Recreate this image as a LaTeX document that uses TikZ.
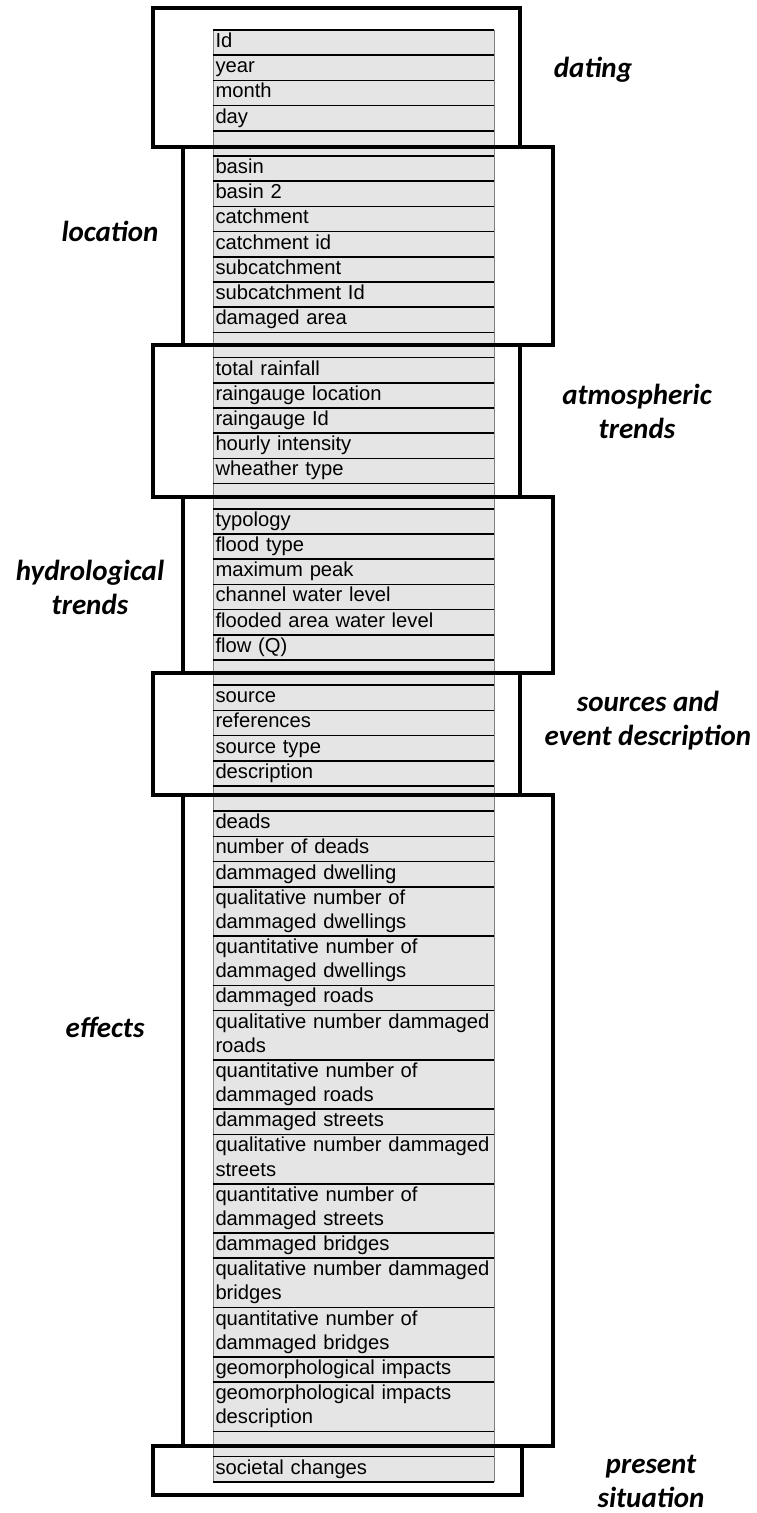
\documentclass[tikz,border=0pt]{standalone}
\usepackage{fontspec}
\setmainfont{Liberation Sans}
\newfontfamily\tagfont{Carlito}
\usetikzlibrary{positioning}
\definecolor{cellgray}{rgb}{0.9,0.9,0.9}

\begin{document}
\begin{tikzpicture}[
  x=1pt, y=-1pt,
  cell/.style = {fill=cellgray, draw=gray, line width=0.6pt, outer sep=0pt,
    inner xsep=2.5pt, inner ysep=0pt, text width=276pt, align=left,
    text height=17.5pt, font=\fontsize{20.2}{24.1}\selectfont},
  sep/.style = {line width=1.6pt},
  frame/.style = {line width=4pt},
  tag/.style = {align=center, font=\tagfont\bfseries\itshape\fontsize{29}{34}\selectfont},
]
  \useasboundingbox (0,0) rectangle (756,1513);

  % column of fields
  \coordinate (top) at (213,30);
  \foreach [count=\i, remember=\i as \j (initially 0)] \t/\n in {
      Id/1, year/1, month/1, day/1, {}/1,
      basin/1, basin 2/1, catchment/1, catchment id/1, subcatchment/1,
      subcatchment Id/1, damaged area/1, {}/1,
      total rainfall/1, raingauge location/1, raingauge Id/1,
      hourly intensity/1, wheather type/1, {}/1,
      typology/1, flood type/1, maximum peak/1, channel water level/1,
      flooded area water level/1, flow (Q)/1, {}/1,
      source/1, references/1, source type/1, description/1, {}/1,
      deads/1, number of deads/1, dammaged dwelling/1,
      {qualitative number of\\dammaged dwellings}/2,
      {quantitative number of\\dammaged dwellings}/2,
      dammaged roads/1,
      {qualitative number dammaged\\roads}/2,
      {quantitative number of\\dammaged roads}/2,
      dammaged streets/1,
      {qualitative number dammaged\\streets}/2,
      {quantitative number of\\dammaged streets}/2,
      dammaged bridges/1,
      {qualitative number dammaged\\bridges}/2,
      {quantitative number of\\dammaged bridges}/2,
      geomorphological impacts/1,
      {geomorphological impacts\\description}/2, {}/1,
      societal changes/1} {
    \pgfmathsetmacro\dep{7.7+(\n-1)*24.1}
    \ifnum\i=1
      \node[cell, text depth=\dep pt, anchor=north west] (row\i) at (top) {\t};
    \else
      \node[cell, text depth=\dep pt, below=0pt of row\j] (row\i) {\t};
    \fi
    \draw[sep] (row\i.north west) -- (row\i.north east);
  }
  \draw[sep] (row49.south west) -- (row49.south east);

  % group frames
  \draw[frame] (153,8) rectangle (520,147);
  \draw[frame] (183,147) rectangle (553,345);
  \draw[frame] (153,345) rectangle (520,497);
  \draw[frame] (183,497) rectangle (553,673);
  \draw[frame] (153,673) rectangle (520,795);
  \draw[frame] (183,795) rectangle (553,1446);
  \draw[frame] (153,1446) rectangle (522,1495);

  % group names
  \node[tag] (dating) at (593,70) {dating};
  \node[tag] (location) at (110,231) {location};
  \node[tag] (atmos) at (637,411) {atmospheric\\trends};
  \node[tag] (hydro) at (90,587) {hydrological\\trends};
  \node[tag] (sources) at (648,721) {sources and\\event description};
  \node[tag] (effects) at (105,1027) {effects};
  \node[tag] (present) at (651,1481) {present\\situation};

\end{tikzpicture}
\end{document}
